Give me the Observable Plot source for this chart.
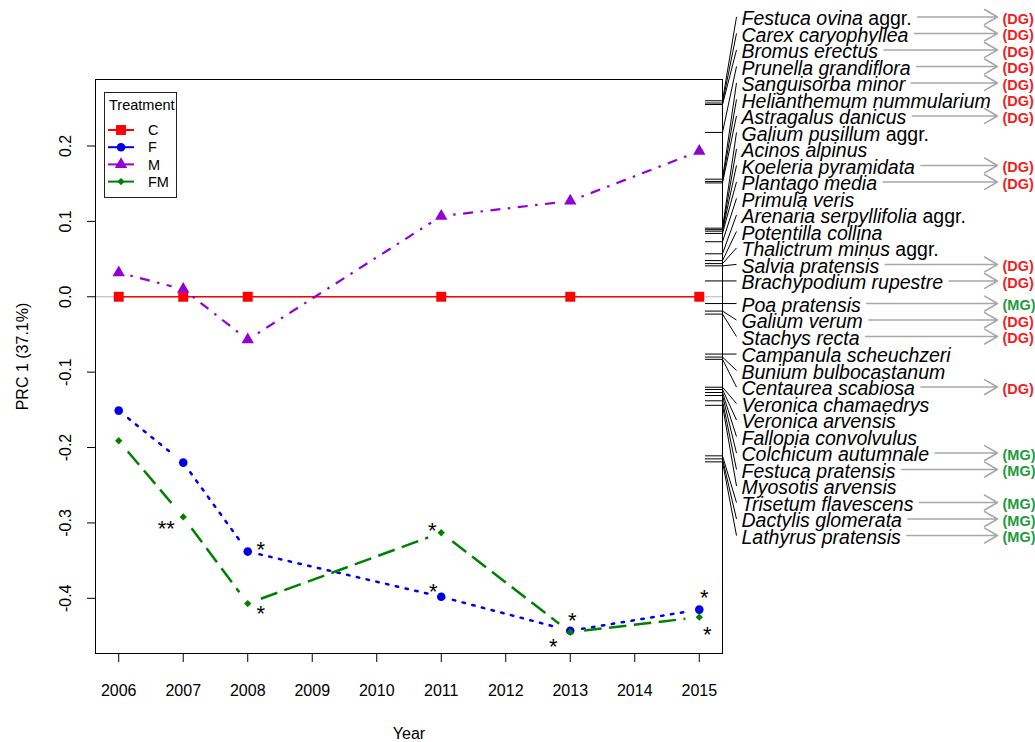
<!DOCTYPE html>
<html>
<head>
<meta charset="utf-8">
<script src="https://cdn.jsdelivr.net/npm/d3@7"></script>
<script src="https://cdn.jsdelivr.net/npm/@observablehq/plot@0.6"></script>
<style>
  body { margin: 0; background: #fff; }
  #chart { position: relative; width: 1035px; height: 742px; }
</style>
</head>
<body>
<div id="chart"></div>
<script>
// ---- Data: principal response curves (PRC axis 1) by treatment ----
const years = [2006, 2007, 2008, 2011, 2013, 2015];
const yearTicks = [2006, 2007, 2008, 2009, 2010, 2011, 2012, 2013, 2014, 2015];
const yTicks = [-0.4, -0.3, -0.2, -0.1, 0.0, 0.1, 0.2];
const treatments = ["C", "F", "M", "FM"];
const prcC  = [0, 0, 0, 0, 0, 0];
const prcF  = [-0.151, -0.220, -0.338, -0.398, -0.443, -0.415];
const prcM  = [0.032, 0.010, -0.057, 0.107, 0.127, 0.193];
const prcFM = [-0.191, -0.292, -0.407, -0.313, -0.445, -0.425];

// Significance marks next to treatment means
const sigYears  = [2007, 2008, 2008, 2011, 2011, 2013, 2013, 2015, 2015];
const sigGroups = ["FM", "F", "FM", "FM", "F", "F", "FM", "F", "FM"];
const sigText   = ["**", "*", "*", "*", "*", "*", "*", "*", "*"];

// Species scores on PRC axis 1, with response group (DG / MG)
const species = [
  "Festuca ovina aggr.", "Carex caryophyllea", "Bromus erectus", "Prunella grandiflora",
  "Sanguisorba minor", "Helianthemum nummularium", "Astragalus danicus", "Galium pusillum aggr.",
  "Acinos alpinus", "Koeleria pyramidata", "Plantago media", "Primula veris",
  "Arenaria serpyllifolia aggr.", "Potentilla collina", "Thalictrum minus aggr.", "Salvia pratensis",
  "Brachypodium rupestre", "Poa pratensis", "Galium verum", "Stachys recta",
  "Campanula scheuchzeri", "Bunium bulbocastanum", "Centaurea scabiosa", "Veronica chamaedrys",
  "Veronica arvensis", "Fallopia convolvulus", "Colchicum autumnale", "Festuca pratensis",
  "Myosotis arvensis", "Trisetum flavescens", "Dactylis glomerata", "Lathyrus pratensis"
];
const speciesScores = [
  0.260, 0.257, 0.255, 0.218,
  0.156, 0.153, 0.151, 0.091,
  0.089, 0.087, 0.084, 0.073,
  0.057, 0.048, 0.044, 0.041,
  0.021, -0.009, -0.019, -0.023,
  -0.076, -0.080, -0.083, -0.120,
  -0.123, -0.127, -0.131, -0.138,
  -0.144, -0.211, -0.215, -0.219
];
const speciesGroup = [
  "DG", "DG", "DG", "DG",
  "DG", "DG", "DG", "",
  "", "DG", "DG", "",
  "", "", "", "DG",
  "DG", "MG", "DG", "DG",
  "", "", "DG", "",
  "", "", "MG", "MG",
  "", "MG", "MG", "MG"
];

// ---- Layout ----
const W = 1035, H = 742;
const M = {left: 95, right: 313, top: 79, bottom: 89};
const font = "'Liberation Sans', Arial, Helvetica, sans-serif";

// axis limits: data range widened by 4% on each side
const pad = ([a, b]) => [a - 0.04 * (b - a), b + 0.04 * (b - a)];
const seriesValues = {C: prcC, F: prcF, M: prcM, FM: prcFM};
const xDomain = pad(d3.extent(years));
const yDomain = pad(d3.extent([...prcC, ...prcF, ...prcM, ...prcFM, ...speciesScores]));

function makeScale(kind, domain, range) {
  try {
    const s = Plot.scale({[kind]: {type: "linear", domain, range}});
    if (s && s.apply && s.invert) return s;
  } catch (e) {}
  const d = d3.scaleLinear(domain, range);
  return {apply: d, invert: d.invert};
}
const xs = makeScale("x", xDomain, [M.left, W - M.right]);
const ys = makeScale("y", yDomain, [H - M.bottom, M.top]);
const xRight = xDomain[1];
const xRightPx = xs.apply(xRight);

const seriesStyle = {
  C:  {color: "#FF0000", dash: null,              width: 1.3, cap: "butt",  symbol: "square",   r: 5.6, gap: 0},
  F:  {color: "#0000E6", dash: "2.5 7.5",         width: 2.5, cap: "round", symbol: "circle",   r: 4.3, gap: 12},
  M:  {color: "#9400D3", dash: "2.5 7.5 10 7.5",  width: 2.2, cap: "butt",  symbol: "triangle", r: 4.6, gap: 12},
  FM: {color: "#008000", dash: "17.5 7.5",        width: 2.5, cap: "butt",  symbol: "diamond2", r: 3.3, gap: 14}
};

// rows for points
const prcRows = treatments.flatMap(t => years.map((yr, i) => ({treatment: t, year: yr, value: seriesValues[t][i]})));

// line pieces between successive years, stopped short of the symbols
function segments(t) {
  const g = seriesStyle[t].gap;
  const pts = years.map((yr, i) => [xs.apply(yr), ys.apply(seriesValues[t][i])]);
  return d3.pairs(pts).map(([[ax, ay], [bx, by]]) => {
    const len = Math.hypot(bx - ax, by - ay), ux = (bx - ax) / len, uy = (by - ay) / len;
    return {
      x1: xs.invert(ax + ux * g), y1: ys.invert(ay + uy * g),
      x2: xs.invert(bx - ux * g), y2: ys.invert(by - uy * g)
    };
  });
}

// species labels stacked outward from zero so they do not overlap
const labelGap = 16.5;
const speciesRows = species.map((name, i) => ({name, score: speciesScores[i], group: speciesGroup[i]}));
(function stack(rows) {
  const up = rows.filter(d => d.score >= 0).sort((a, b) => a.score - b.score);
  let prev = Infinity;
  for (const d of up) { const p = Math.min(ys.apply(d.score), prev - labelGap); d.labelPx = p; prev = p; }
  const down = rows.filter(d => d.score < 0).sort((a, b) => b.score - a.score);
  prev = -Infinity;
  for (const d of down) { const p = Math.max(ys.apply(d.score), prev + labelGap); d.labelPx = p; prev = p; }
  rows.forEach(d => d.labelY = ys.invert(d.labelPx));
})(speciesRows);

// label widths, for the arrows that lead to the group tags
const ctx = document.createElement("canvas").getContext("2d");
const nameSize = 19.5;
const splitAggr = s => s.match(/^(.*?)( aggr\.)$/);
function nameWidth(name) {
  const m = splitAggr(name);
  ctx.font = `italic ${nameSize}px ${font}`;
  let w = ctx.measureText(m ? m[1] : name).width;
  if (m) { ctx.font = `${nameSize}px ${font}`; w += ctx.measureText(m[2]).width; }
  return w;
}
const labelStartPx = xRightPx + 19;
const arrowEndPx = xRightPx + 275;
const tagRows = speciesRows.filter(d => d.group);
const arrowRows = tagRows
  .map(d => ({...d, x1: xs.invert(labelStartPx + nameWidth(d.name) + 6), x2: xs.invert(arrowEndPx)}))
  .filter(d => xs.apply(d.x2) - xs.apply(d.x1) > 16);
const groupColor = {DG: "#F01E23", MG: "#1E9B3C"};

const rugStart = xs.invert(xRightPx - 17);
const leaderEnd = xs.invert(xRightPx + 14);

// offsets of the significance marks from their points
const starOffsets = [[-17, 12], [13, -2], [13, 10], [-9, -2], [-8, -5], [2, -10], [-17, 15], [5, -12], [8, 18]];
const starMarks = sigYears.map((yr, i) => {
  const v = seriesValues[sigGroups[i]][years.indexOf(yr)];
  return Plot.text([{year: yr, value: v, t: sigText[i]}], {
    x: "year", y: "value", text: "t", dx: starOffsets[i][0], dy: starOffsets[i][1],
    fontSize: 22, fill: "black", textAnchor: "middle", lineAnchor: "middle"
  });
});

const svg = Plot.plot({
  width: W, height: H,
  marginLeft: M.left, marginRight: M.right, marginTop: M.top, marginBottom: M.bottom,
  style: {fontFamily: font, fontSize: "16px", background: "white", color: "black", overflow: "visible"},
  x: {type: "linear", domain: xDomain},
  y: {type: "linear", domain: yDomain},
  marks: [
    Plot.ruleY([0], {stroke: "#B4B4B4", strokeWidth: 1}),
    ...treatments.map(t => Plot.link(segments(t), {
      x1: "x1", y1: "y1", x2: "x2", y2: "y2",
      stroke: seriesStyle[t].color, strokeWidth: seriesStyle[t].width,
      strokeDasharray: seriesStyle[t].dash, strokeLinecap: seriesStyle[t].cap
    })),
    ...treatments.map(t => Plot.dot(prcRows.filter(d => d.treatment === t), {
      x: "year", y: "value", symbol: () => seriesStyle[t].symbol, r: seriesStyle[t].r,
      fill: seriesStyle[t].color, stroke: "none"
    })),
    ...starMarks,
    // species scores as a rug on the right edge, with leaders to their names
    Plot.ruleY(speciesRows, {y: "score", x1: () => rugStart, x2: () => xRight, stroke: "black", strokeWidth: 1}),
    Plot.link(speciesRows, {x1: () => xRight, y1: "score", x2: () => leaderEnd, y2: "labelY", stroke: "black", strokeWidth: 1}),
    Plot.text(speciesRows, {
      x: () => xRight, y: "labelY", text: "name", dx: 19, dy: 2,
      textAnchor: "start", lineAnchor: "middle", fontSize: nameSize, fontStyle: "italic",
      fill: "black"
    }),
    Plot.arrow(arrowRows, {
      x1: "x1", y1: "labelY", x2: "x2", y2: "labelY",
      stroke: "#A8A8A8", strokeWidth: 1.6, headLength: 14, headAngle: 60
    }),
    Plot.text(tagRows, {
      x: () => xRight, y: "labelY", text: d => `(${d.group})`, dx: 280, dy: 2,
      textAnchor: "start", lineAnchor: "middle", fontSize: 14.5, fontWeight: "bold",
      fill: d => groupColor[d.group]
    }),
    Plot.frame({stroke: "black", strokeWidth: 1}),
    Plot.axisX({ticks: yearTicks, tickSize: 9, tickPadding: 22, tickFormat: d => String(d), fontSize: 16, label: null}),
    Plot.axisY({ticks: yTicks, tickSize: 8, tickFormat: () => "", label: null}),
    Plot.text(yTicks, {
      y: d => d, text: d => d.toFixed(1), frameAnchor: "left", dx: -30, rotate: -90,
      textAnchor: "middle", lineAnchor: "middle", fontSize: 16
    }),
    Plot.text(["Year"], {frameAnchor: "bottom", dy: 80, textAnchor: "middle", lineAnchor: "middle", fontSize: 16}),
    Plot.text(["PRC 1 (37.1%)"], {frameAnchor: "left", dx: -73, dy: -10, rotate: -90, textAnchor: "middle", lineAnchor: "middle", fontSize: 16})
  ]
});

// "aggr." is set upright after the italic species name
d3.select(svg).selectAll("text").each(function () {
  const m = splitAggr(this.textContent);
  if (!m) return;
  this.textContent = m[1];
  d3.select(this).append("tspan").attr("font-style", "normal").style("font-style", "normal").text(m[2]);
});

// treatment legend
const lg = d3.select(svg).append("g")
  .attr("font-family", font).attr("font-size", 14.5).attr("text-anchor", "start").style("text-anchor", "start");
lg.append("rect").attr("x", 104.5).attr("y", 92.5).attr("width", 72).attr("height", 105)
  .attr("fill", "white").attr("stroke", "#222").attr("stroke-width", 1);
lg.append("text").attr("x", 109).attr("y", 110).text("Treatment");
const symbolType = {square: d3.symbolSquare, circle: d3.symbolCircle, triangle: d3.symbolTriangle, diamond2: d3.symbolDiamond2};
treatments.forEach((t, i) => {
  const st = seriesStyle[t], cy = 130 + i * 17.2;
  lg.append("line").attr("x1", 108).attr("x2", 134).attr("y1", cy).attr("y2", cy)
    .attr("stroke", st.color).attr("stroke-width", 2);
  lg.append("path").attr("transform", `translate(121,${cy})`)
    .attr("d", d3.symbol(symbolType[st.symbol], Math.PI * st.r * st.r)()).attr("fill", st.color);
  lg.append("text").attr("x", 148).attr("y", cy + 5.2).text(t);
});

document.getElementById("chart").appendChild(svg);
</script>
</body>
</html>
